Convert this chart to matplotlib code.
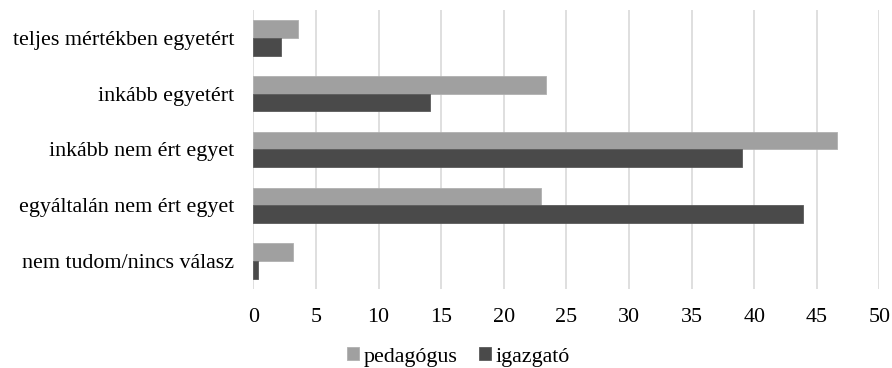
import matplotlib.pyplot as plt
import numpy as np

categories = ["teljes mértékben egyetért", "inkább egyetért", "inkább nem ért egyet",
              "egyáltalán nem ért egyet", "nem tudom/nincs válasz"]
pedagogus = [3.6, 23.4, 46.6, 23.0, 3.2]
igazgato = [2.2, 14.1, 39.0, 43.9, 0.35]
xticks = [0, 5, 10, 15, 20, 25, 30, 35, 40, 45, 50]

plt.rcParams['font.family'] = ['Liberation Serif', 'DejaVu Serif']

fig = plt.figure(figsize=(8.92, 3.68), dpi=100)
ax = fig.add_axes([0.284, 0.2147, 0.7018, 0.7581])

y = np.arange(len(categories))
h = 0.317
ax.barh(y - h / 2, pedagogus, height=h, color="#a0a0a0", edgecolor="#b0b0b0", linewidth=0.6,
        label="pedagógus", zorder=3)
ax.barh(y + h / 2, igazgato, height=h, color="#4a4a4a", edgecolor="#5a5a5a", linewidth=0.6,
        label="igazgató", zorder=3)

ax.set_ylim(len(categories) - 0.5, -0.5)
ax.set_xlim(0, 50)
ax.set_yticks(y)
ax.set_yticklabels(categories, fontsize=15.8)
ax.set_xticks(xticks)
ax.set_xticklabels([str(t) for t in xticks], fontsize=15.8)
ax.tick_params(axis='both', length=0)
ax.tick_params(axis='x', pad=14)
ax.tick_params(axis='y', pad=14)
ax.grid(axis='x', color="#d9d9d9", linewidth=1.2, zorder=0)
for s in ax.spines.values():
    s.set_visible(False)

fig.legend(loc="center", bbox_to_anchor=(0.514, 0.03), ncol=2, frameon=False, fontsize=15.8,
           handlelength=0.55, handleheight=0.55, handletextpad=0.2, columnspacing=1.0,
           borderpad=0.1)

fig.savefig("out.png", dpi=100)
